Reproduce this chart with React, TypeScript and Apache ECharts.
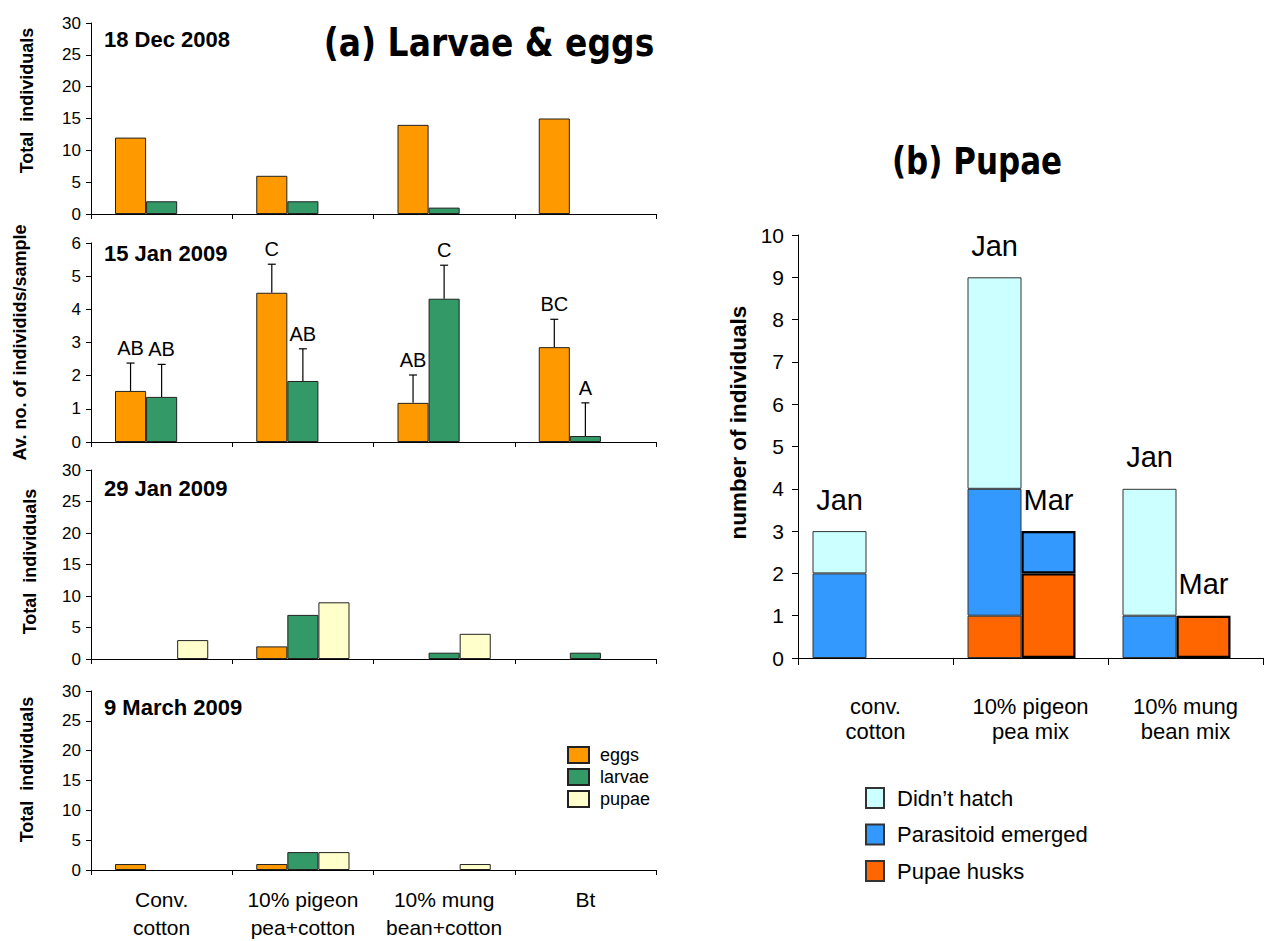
import React, { useEffect, useRef } from 'react';
import * as echarts from 'echarts';

// ---------- data ----------
const categoriesA = ['Conv.\ncotton', '10% pigeon\npea+cotton', '10% mung\nbean+cotton', 'Bt'];
const categoriesB = ['conv.\ncotton', '10% pigeon\npea mix', '10% mung\nbean mix'];
const panelDates = ['18 Dec 2008', '15 Jan 2009', '29 Jan 2009', '9 March 2009'];

const dec18Eggs = [12, 6, 14, 15];
const dec18Larvae = [2, 2, 1, 0];
const dec18Pupae = [0, 0, 0, 0];

const jan15Eggs = [1.54, 4.5, 1.18, 2.86];
const jan15Larvae = [1.36, 1.84, 4.32, 0.18];
const jan15Pupae = [0, 0, 0, 0];
const jan15EggsErrTop = [2.38, 5.36, 2.02, 3.7];
const jan15LarvaeErrTop = [2.34, 2.81, 5.33, 1.18];
const jan15EggsLetters = ['AB', 'C', 'AB', 'BC'];
const jan15LarvaeLetters = ['AB', 'AB', 'C', 'A'];

const jan29Eggs = [0, 2, 0, 0];
const jan29Larvae = [0, 7, 1, 1];
const jan29Pupae = [3, 9, 4, 0];

const mar9Eggs = [1, 1, 0, 0];
const mar9Larvae = [0, 3, 0, 0];
const mar9Pupae = [0, 3, 1, 0];

const janHusks = [0, 1, 0];
const janParasitoid = [2, 3, 1];
const janDidntHatch = [1, 5, 3];
const marHusks = [0, 2, 1];
const marParasitoid = [0, 1, 0];
const marDidntHatch = [0, 0, 0];

// ---------- style ----------
const FONT = "'Liberation Sans', Arial, sans-serif";
const TITLE_FONT = "'Comic Sans MS', 'DejaVu Sans', sans-serif";
const C_EGGS = '#FF9900';
const C_LARVAE = '#339966';
const C_PUPAE = '#FFFFCC';
const C_HATCH = '#CCFFFF';
const C_PARA = '#3399FF';
const C_HUSK = '#FF6600';
const GAP_A = 0.34;

const nz = (arr: number[]) => arr.map((v) => (v === 0 ? '-' : v));

export default function App() {
  const ref = useRef<HTMLDivElement>(null);
  useEffect(() => {
    if (!ref.current) return;
    const chart = echarts.init(ref.current, undefined, { renderer: 'svg' });

    const gridsA = [
      { left: 91, top: 23, width: 565, height: 191 },
      { left: 91, top: 243, width: 565, height: 199 },
      { left: 91, top: 470, width: 565, height: 189 },
      { left: 91, top: 691, width: 565, height: 182 },
    ];
    const gridB = { left: 798, top: 235, width: 465, height: 423 };

    const axisLine = { show: true, lineStyle: { color: '#000', width: 1 } };
    const yNames = ['Total  individuals', 'Av. no. of individids/sample', 'Total  individuals', 'Total  individuals'];
    const yGaps = [55, 62, 52, 55];
    const yNameShift = [36, 0, 6, 22];

    const xAxes: any[] = gridsA.map((_, i) => ({
      type: 'category',
      gridIndex: i,
      data: categoriesA,
      axisLine,
      axisTick: { show: true, length: 5, lineStyle: { color: '#000' } },
      axisLabel: i === 3
        ? { show: true, interval: 0, fontFamily: FONT, fontSize: 21, color: '#000', lineHeight: 28, margin: 15 }
        : { show: false },
    }));
    xAxes.push({
      type: 'category',
      gridIndex: 4,
      data: categoriesB,
      axisLine,
      axisTick: { show: true, length: 7, lineStyle: { color: '#000' } },
      axisLabel: { interval: 0, fontFamily: FONT, fontSize: 22, color: '#000', lineHeight: 25, margin: 36 },
    });

    const yAxes: any[] = gridsA.map((_, i) => ({
      type: 'value',
      gridIndex: i,
      min: 0,
      max: i === 1 ? 6 : 30,
      interval: i === 1 ? 1 : 5,
      axisLine,
      axisTick: { show: true, length: 5, lineStyle: { color: '#000' } },
      splitLine: { show: false },
      axisLabel: { fontFamily: FONT, fontSize: 17, color: '#000', margin: 10 },
      name: yNames[i],
      nameLocation: 'middle',
      nameRotate: 90,
      nameGap: yGaps[i],
      nameTextStyle: {
        fontFamily: FONT,
        fontSize: 18,
        fontWeight: 'bold',
        color: '#000',
        padding: [0, 0, 0, yNameShift[i]],
      },
    }));
    yAxes.push({
      type: 'value',
      gridIndex: 4,
      min: 0,
      max: 10,
      interval: 1,
      axisLine,
      axisTick: { show: true, length: 6, lineStyle: { color: '#000' } },
      splitLine: { show: false },
      axisLabel: { fontFamily: FONT, fontSize: 21, color: '#000', margin: 14 },
      name: 'number of individuals',
      nameLocation: 'middle',
      nameRotate: 90,
      nameGap: 48,
      nameTextStyle: {
        fontFamily: FONT,
        fontSize: 22.5,
        fontWeight: 'bold',
        color: '#000',
        padding: [0, 0, 0, 48],
      },
    });

    const panelData = [
      [dec18Eggs, dec18Larvae, dec18Pupae],
      [jan15Eggs, jan15Larvae, jan15Pupae],
      [jan29Eggs, jan29Larvae, jan29Pupae],
      [mar9Eggs, mar9Larvae, mar9Pupae],
    ];
    const names = ['eggs', 'larvae', 'pupae'];
    const colors = [C_EGGS, C_LARVAE, C_PUPAE];

    const series: any[] = [];
    panelData.forEach((sets, gi) => {
      sets.forEach((vals, si) => {
        series.push({
          type: 'bar',
          name: names[si],
          xAxisIndex: gi,
          yAxisIndex: gi,
          data: nz(vals),
          barGap: '0%',
          barCategoryGap: `${GAP_A * 100}%`,
          itemStyle: { color: colors[si], borderColor: '#222', borderWidth: 1 },
        });
      });
    });

    // error bars + letters for 15 Jan panel
    const errData: any[] = [];
    const errLetters: string[] = [];
    jan15Eggs.forEach((v, i) => {
      errData.push([i, v, jan15EggsErrTop[i], 0]);
      errLetters.push(jan15EggsLetters[i]);
    });
    jan15Larvae.forEach((v, i) => {
      errData.push([i, v, jan15LarvaeErrTop[i], 1]);
      errLetters.push(jan15LarvaeLetters[i]);
    });
    series.push({
      type: 'custom',
      name: 'error',
      xAxisIndex: 1,
      yAxisIndex: 1,
      data: errData,
      encode: { x: 0, y: [1, 2] },
      renderItem: (params: any, api: any) => {
        const ci = api.value(0);
        const v = api.value(1);
        const hi = api.value(2);
        const slot = api.value(3);
        const catW = api.size([1, 0])[0];
        const barW = (catW * (1 - GAP_A)) / 3;
        const base = api.coord([ci, v]);
        const top = api.coord([ci, hi]);
        const x = base[0] + (slot - 1) * barW;
        const ls = { stroke: '#000', lineWidth: 1.2 };
        return {
          type: 'group',
          children: [
            { type: 'line', shape: { x1: x, y1: base[1], x2: x, y2: top[1] }, style: ls },
            { type: 'line', shape: { x1: x - 4, y1: top[1], x2: x + 4, y2: top[1] }, style: ls },
            {
              type: 'text',
              style: {
                text: errLetters[params.dataIndex],
                x,
                y: top[1] - 5,
                textAlign: 'center',
                textVerticalAlign: 'bottom',
                fontFamily: FONT,
                fontSize: 20,
                fill: '#000',
              },
            },
          ],
        };
      },
      z: 5,
    });

    // panel b stacked bars
    const B_BAR_W = 54;
    const bSets = [
      { stack: 'jan', vals: [janHusks, janParasitoid, janDidntHatch], bw: 1, bc: '#333' },
      { stack: 'mar', vals: [marHusks, marParasitoid, marDidntHatch], bw: 2.2, bc: '#000' },
    ];
    const bNames = ['Pupae husks', 'Parasitoid emerged', 'Didn’t hatch'];
    const bColors = [C_HUSK, C_PARA, C_HATCH];
    bSets.forEach((set) => {
      set.vals.forEach((vals, si) => {
        series.push({
          type: 'bar',
          name: bNames[si],
          stack: set.stack,
          xAxisIndex: 4,
          yAxisIndex: 4,
          data: nz(vals),
          barGap: '0%',
          barWidth: B_BAR_W,
          itemStyle: { color: bColors[si], borderColor: set.bc, borderWidth: set.bw },
        });
      });
      const totals = set.vals[0].map((_, i) => set.vals.reduce((s, arr) => s + arr[i], 0));
      series.push({
        type: 'bar',
        name: set.stack + 'Label',
        stack: set.stack,
        xAxisIndex: 4,
        yAxisIndex: 4,
        data: totals.map((t) => (t > 0 ? 0 : '-')),
        barWidth: B_BAR_W,
        itemStyle: { color: 'transparent', borderWidth: 0 },
        label: {
          show: true,
          position: 'top',
          distance: 17,
          formatter: set.stack === 'jan' ? 'Jan' : 'Mar',
          fontFamily: FONT,
          fontSize: 29,
          color: '#000',
        },
        silent: true,
      });
    });
    // empty spacer slot (Excel layout leaves room to the right of each pair)
    series.push({
      type: 'bar',
      name: 'spacer',
      stack: 'spacer',
      xAxisIndex: 4,
      yAxisIndex: 4,
      data: categoriesB.map(() => '-'),
      barWidth: 18,
      silent: true,
    });

    const dateY = [39, 253, 488, 707];
    const graphic: any[] = [
      {
        type: 'text',
        x: 489,
        y: 42,
        scaleY: 1.2,
        style: {
          text: '(a) Larvae & eggs',
          x: 0,
          y: 0,
          textAlign: 'center',
          textVerticalAlign: 'middle',
          fontFamily: TITLE_FONT,
          fontWeight: 'bold',
          fontSize: 33,
          fill: '#000',
        },
      },
      {
        type: 'text',
        x: 977,
        y: 161,
        scaleY: 1.2,
        style: {
          text: '(b) Pupae',
          x: 0,
          y: 0,
          textAlign: 'center',
          textVerticalAlign: 'middle',
          fontFamily: TITLE_FONT,
          fontWeight: 'bold',
          fontSize: 31,
          fill: '#000',
        },
      },
      ...panelDates.map((d, i) => ({
        type: 'text',
        style: {
          text: d,
          x: 104,
          y: dateY[i],
          textAlign: 'left',
          textVerticalAlign: 'middle',
          fontFamily: FONT,
          fontWeight: 'bold',
          fontSize: 22,
          fill: '#000',
        },
      })),
    ];

    chart.setOption({
      animation: false,
      backgroundColor: '#fff',
      grid: [...gridsA, gridB],
      xAxis: xAxes,
      yAxis: yAxes,
      legend: [
        {
          data: ['eggs', 'larvae', 'pupae'],
          orient: 'vertical',
          left: 567,
          top: 746,
          padding: 0,
          icon: 'rect',
          itemWidth: 21,
          itemHeight: 16,
          itemGap: 4,
          selectedMode: false,
          textStyle: { fontFamily: FONT, fontSize: 18, lineHeight: 16, color: '#000', padding: [0, 0, 0, 6] },
        },
        {
          data: ['Didn’t hatch', 'Parasitoid emerged', 'Pupae husks'],
          orient: 'vertical',
          left: 865,
          top: 787,
          padding: 0,
          icon: 'rect',
          itemWidth: 18,
          itemHeight: 20,
          itemGap: 14.5,
          selectedMode: false,
          textStyle: { fontFamily: FONT, fontSize: 22, lineHeight: 20, color: '#000', padding: [0, 0, 0, 8] },
        },
      ],
      series,
      graphic,
    });
    return () => chart.dispose();
  }, []);
  return (
    <div
      ref={ref}
      style={{ position: 'absolute', left: 0, top: 0, width: 1265, height: 941, background: '#fff' }}
    />
  );
}
